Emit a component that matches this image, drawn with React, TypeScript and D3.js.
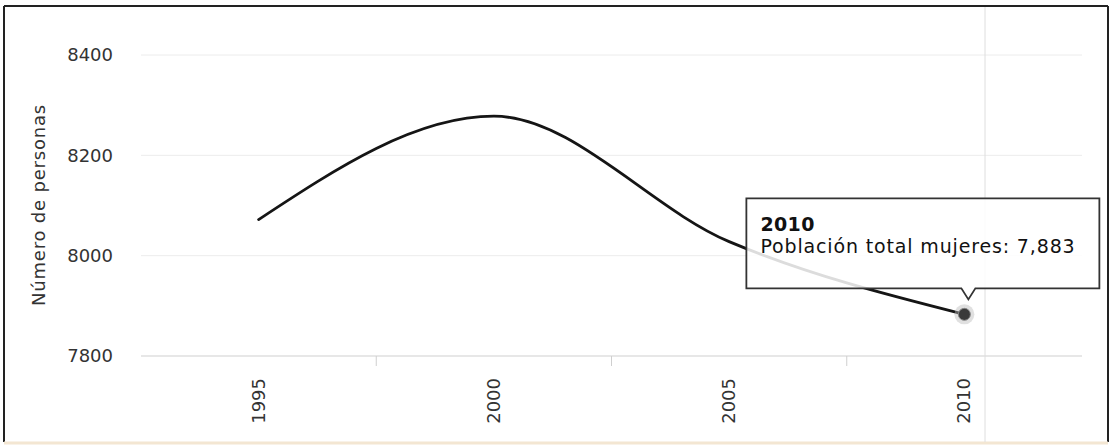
import React from "react";
import * as d3 from "d3";

const categories: string[] = ["1995", "2000", "2005", "2010"];
const values: number[] = [8072, 8278, 8028, 7883];
const yTicks: number[] = [7800, 8000, 8200, 8400];
const yTitle = "Número de personas";
const seriesName = "Población total mujeres";
const hoverIndex = 3;

const W = 1113;
const H = 447;
const FONT = "'DejaVu Sans', Verdana, sans-serif";

export default function App() {
  const x = d3.scaleBand<string>().domain(categories).range([141, 1082]).padding(0);
  const y = d3.scaleLinear().domain([7800, 8400]).range([356, 55]);
  const cx = (c: string) => (x(c) as number) + x.bandwidth() / 2;

  const pts: [number, number][] = categories.map((c, i) => [cx(c), y(values[i])]);
  const line = d3.line<[number, number]>().x((d) => d[0]).y((d) => d[1]).curve(d3.curveMonotoneX);

  const tickXs = categories.slice(1).map((c) => x(c) as number);

  // tooltip geometry, anchored to hovered point
  const hx = pts[hoverIndex][0];
  const hy = pts[hoverIndex][1];
  const tipX = hx + 4;
  const tipY = hy - 15;
  const bx0 = hx - 218;
  const bx1 = hx + 135;
  const by1 = tipY - 11;
  const by0 = by1 - 90;
  const tipPath = `M${bx0},${by0} L${bx1},${by0} L${bx1},${by1} L${tipX + 7},${by1} L${tipX},${tipY} L${tipX - 7},${by1} L${bx0},${by1} Z`;

  const fmt = d3.format(",");

  return (
    <div style={{ position: "absolute", left: 0, top: 0 }}>
      <svg width={W} height={H} style={{ display: "block", background: "#fff" }}>
        {/* frame */}
        <line x1={4} y1={6} x2={1108} y2={6} stroke="#222" strokeWidth={2} />
        <line x1={4} y1={6} x2={4} y2={442} stroke="#222" strokeWidth={2} />
        <line x1={1108} y1={6} x2={1108} y2={442} stroke="#222" strokeWidth={2} />
        <line x1={4} y1={443} x2={1108} y2={443} stroke="#f3e6d2" strokeWidth={3} />

        {/* gridlines */}
        {yTicks.map((t) => (
          <line
            key={t}
            x1={141}
            x2={1082}
            y1={y(t)}
            y2={y(t)}
            stroke={t === 7800 ? "#cfcfcf" : "#ececec"}
            strokeWidth={1}
          />
        ))}
        {/* faint vertical line */}
        <line x1={985} x2={985} y1={7} y2={442} stroke="#dedede" strokeWidth={1} />

        {/* x ticks between categories */}
        {tickXs.map((tx) => (
          <line key={tx} x1={tx} x2={tx} y1={y(7800)} y2={y(7800) + 10} stroke="#cfcfcf" strokeWidth={1} />
        ))}

        {/* y labels */}
        {yTicks.map((t) => (
          <text
            key={t}
            x={113}
            y={y(t)}
            dy="0.36em"
            textAnchor="end"
            fontFamily={FONT}
            fontSize={18}
            fill="#333"
          >
            {t}
          </text>
        ))}

        {/* y title */}
        <text
          transform={`translate(45,205) rotate(-90)`}
          textAnchor="middle"
          fontFamily={FONT}
          fontSize={18}
          letterSpacing={0.8}
          fill="#333"
        >
          {yTitle}
        </text>

        {/* x labels */}
        {categories.map((c) => (
          <text
            key={c}
            transform={`translate(${cx(c) + 6},378) rotate(-90)`}
            textAnchor="end"
            fontFamily={FONT}
            fontSize={18}
            fill="#333"
          >
            {c}
          </text>
        ))}

        {/* series line */}
        <path d={line(pts) || ""} fill="none" stroke="#151515" strokeWidth={2.8} strokeLinejoin="round" strokeLinecap="round" />

        {/* hovered marker */}
        <circle cx={hx} cy={hy} r={10} fill="#bbb" fillOpacity={0.45} />
        <circle cx={hx} cy={hy} r={6} fill="#3a3a3a" stroke="#888" strokeWidth={1} />

        {/* tooltip */}
        <path d={tipPath} fill="#fff" fillOpacity={0.85} stroke="#333" strokeWidth={1.8} />
        <text x={bx0 + 14} y={by0 + 33} fontFamily={FONT} fontSize={19} fontWeight="bold" letterSpacing={0.4} fill="#111">
          {categories[hoverIndex]}
        </text>
        <text x={bx0 + 14} y={by0 + 55} fontFamily={FONT} fontSize={19} letterSpacing={0.85} fill="#111">
          {`${seriesName}: ${fmt(values[hoverIndex])}`}
        </text>
      </svg>
    </div>
  );
}
